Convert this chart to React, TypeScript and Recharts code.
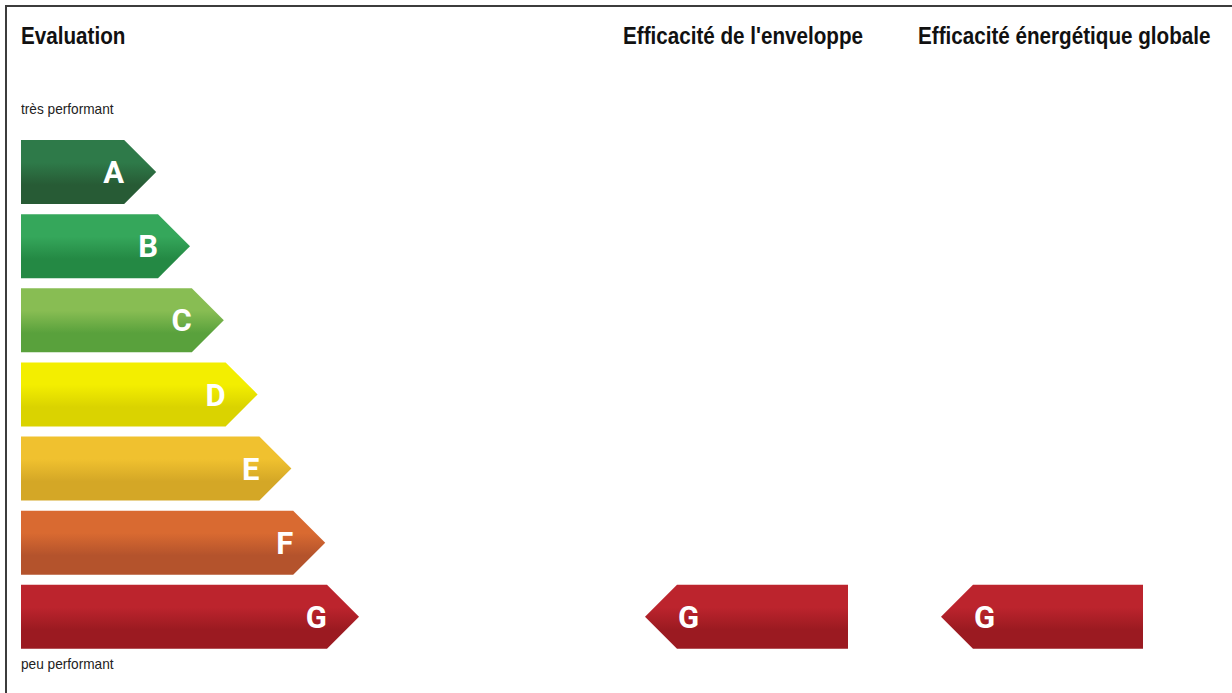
import React from "react";
import { Bar, BarChart, XAxis, YAxis } from "recharts";

// energy classes, best to worst
const classes = ["A", "B", "C", "D", "E", "F", "G"];
// arrow length of each class on the scale (arbitrary units)
const scaleLength = [4, 5, 6, 7, 8, 9, 10];
const colorTop = ["#2e7a49", "#35a75b", "#88bd53", "#f3ee00", "#f0c12f", "#d96a31", "#bc242d"];
const colorBottom = ["#275b35", "#248944", "#59a13c", "#dad300", "#d4a726", "#b4532c", "#9b1a21"];

// ratings of the building
const envelopeRating = "G";
const globalRating = "G";

const sans = "'Liberation Sans', Arial, sans-serif";

const scaleData = classes.map((cls, i) => ({ cls, length: scaleLength[i] }));
const ratingData = (rating: string) =>
  classes.map((cls) => ({ cls, value: cls === rating ? 1 : null }));

function gradient(id: string, i: number) {
  return (
    <defs>
      <linearGradient id={id} x1="0" y1="0" x2="0" y2="1">
        <stop offset="0%" stopColor={colorTop[i]} />
        <stop offset="35%" stopColor={colorTop[i]} />
        <stop offset="70%" stopColor={colorBottom[i]} />
        <stop offset="100%" stopColor={colorBottom[i]} />
      </linearGradient>
    </defs>
  );
}

// arrow pointing right, letter at the end of the body
const RightArrow = (props: any) => {
  const { x, y, width, height, payload } = props;
  if (!width) return null;
  const i = classes.indexOf(payload.cls);
  const tip = height / 2;
  const body = x + width - tip;
  const id = `gr-${i}`;
  return (
    <g>
      {gradient(id, i)}
      <polygon
        points={`${x},${y} ${body},${y} ${x + width},${y + height / 2} ${body},${y + height} ${x},${y + height}`}
        fill={`url(#${id})`}
      />
      <text
        x={body}
        y={y + height / 2}
        dy="0.36em"
        textAnchor="end"
        fill="#fff"
        fontFamily="Roboto, sans-serif"
        fontWeight={700}
        fontSize={31}
      >
        {payload.cls}
      </text>
    </g>
  );
};

// arrow pointing left, used for the building's ratings
const makeLeftArrow = (prefix: string) => (props: any) => {
  const { x, y, width, height, payload } = props;
  if (payload.value == null || !width) return null;
  const i = classes.indexOf(payload.cls);
  const tip = height / 2;
  const id = `${prefix}-${i}`;
  return (
    <g>
      {gradient(id, i)}
      <polygon
        points={`${x},${y + height / 2} ${x + tip},${y} ${x + width},${y} ${x + width},${y + height} ${x + tip},${y + height}`}
        fill={`url(#${id})`}
      />
      <text
        x={x + tip + 1}
        y={y + height / 2}
        dy="0.36em"
        textAnchor="start"
        fill="#fff"
        fontFamily="Roboto, sans-serif"
        fontWeight={700}
        fontSize={31}
      >
        {payload.cls}
      </text>
    </g>
  );
};

const plotTop = 135;
const plotHeight = 519;

function RatingChart({ rating, left, width, prefix }: { rating: string; left: number; width: number; prefix: string }) {
  return (
    <div style={{ position: "absolute", left, top: plotTop }}>
      <BarChart
        width={width}
        height={plotHeight}
        data={ratingData(rating)}
        layout="vertical"
        margin={{ top: 0, right: 0, bottom: 0, left: 0 }}
      >
        <XAxis type="number" domain={[0, 1]} hide />
        <YAxis type="category" dataKey="cls" hide />
        <Bar dataKey="value" barSize={64} shape={makeLeftArrow(prefix)} isAnimationActive={false} />
      </BarChart>
    </div>
  );
}

// narrow look: squeeze the regular sans horizontally
const title: React.CSSProperties = {
  position: "absolute",
  top: 22,
  fontFamily: sans,
  fontWeight: 700,
  fontSize: 24,
  color: "#111",
  whiteSpace: "nowrap",
  lineHeight: "28px",
  transform: "scaleX(0.86)",
  transformOrigin: "left center",
};

const note: React.CSSProperties = {
  position: "absolute",
  left: 21,
  fontFamily: sans,
  fontSize: 15,
  color: "#222",
  whiteSpace: "nowrap",
  lineHeight: "18px",
  transform: "scaleX(0.91)",
  transformOrigin: "left center",
};

export default function App() {
  return (
    <div
      style={{
        position: "absolute",
        left: 0,
        top: 0,
        width: 1232,
        height: 693,
        background: "#fff",
        overflow: "hidden",
      }}
    >
      <div
        style={{
          position: "absolute",
          left: 5,
          top: 5,
          width: 1240,
          height: 700,
          borderTop: "2px solid #3c3c3c",
          borderLeft: "2px solid #3c3c3c",
        }}
      />
      <div style={{ ...title, left: 21 }}>Evaluation</div>
      <div style={{ ...title, left: 623 }}>Efficacité de l'enveloppe</div>
      <div style={{ ...title, left: 918 }}>Efficacité énergétique globale</div>
      <div style={{ ...note, top: 100 }}>très performant</div>
      <div style={{ ...note, top: 655 }}>peu performant</div>

      <div style={{ position: "absolute", left: 21, top: plotTop }}>
        <BarChart
          width={405.6}
          height={plotHeight}
          data={scaleData}
          layout="vertical"
          margin={{ top: 0, right: 0, bottom: 0, left: 0 }}
        >
          <XAxis type="number" domain={[0, 12]} hide />
          <YAxis type="category" dataKey="cls" hide />
          <Bar dataKey="length" barSize={64} shape={RightArrow} isAnimationActive={false} />
        </BarChart>
      </div>

      <RatingChart rating={envelopeRating} left={645} width={203} prefix="env" />
      <RatingChart rating={globalRating} left={941} width={202} prefix="glo" />
    </div>
  );
}
